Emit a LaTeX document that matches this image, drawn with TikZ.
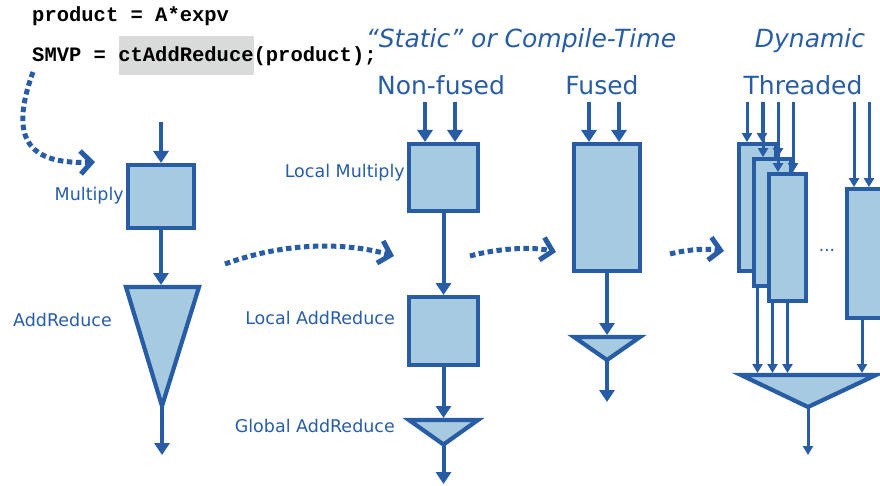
\documentclass[tikz,border=0pt]{standalone}
\usepackage{fontspec}
\setmainfont{DejaVu Sans}
\newfontfamily\codefont{Liberation Mono}
\usetikzlibrary{arrows.meta}
\definecolor{dblue}{HTML}{285DA6}
\definecolor{lblue}{HTML}{A6CADF}
\definecolor{hgray}{HTML}{D9DADA}
\tikzset{
  blk/.style={draw=dblue, fill=lblue, line width=4pt, inner sep=0pt, outer sep=2pt},
  tbox/.style={draw=dblue, fill=lblue, line width=3.8pt, inner sep=0pt, outer sep=1.9pt, minimum width=37pt, minimum height=127pt},
  tri/.style={draw=dblue, fill=lblue, line width=4.2pt, line join=miter},
  arr/.style={draw=dblue, line width=4pt, -{Triangle[length=12pt,width=15pt]}},
  tarr/.style={draw=dblue, line width=3pt, -{Triangle[length=9pt,width=10pt]}},
  dotarr/.style={draw=dblue, line width=5pt, dash pattern=on 5.5pt off 3.5pt, -{Straight Barb[length=11pt,width=23pt,line width=5pt]}},
  lbl/.style={text=dblue, inner sep=0pt, font=\fontsize{17.5}{20}\selectfont},
  hdr/.style={text=dblue, inner sep=0pt, anchor=base, font=\fontsize{25}{28}\selectfont},
  hdri/.style={text=dblue, inner sep=0pt, anchor=base, font=\fontsize{25}{28}\selectfont\itshape},
  code/.style={inner sep=0pt, anchor=base west, font=\codefont\bfseries\fontsize{20.5}{24}\selectfont}
}
\begin{document}
\begin{tikzpicture}[x=1pt,y=-1pt]
\useasboundingbox (0,0) rectangle (880,486);
\clip (0,0) rectangle (880,486);

% code lines
\node[fill=hgray, minimum width=135pt, minimum height=39pt, inner sep=0pt] (hl) at (186.5,55.5) {};
\node[code] (c1) at (32,22) {product = A*expv};
\node[code] (c2) at (32,62) {SMVP = ctAddReduce(product);};

% headers
\node[hdri] (hstatic) at (521,48) {“Static” or Compile-Time};
\node[hdri] (hdyn) at (810,48) {Dynamic};
\node[hdr] (hnf) at (441,95) {Non-fused};
\node[hdr] (hf) at (602,95) {Fused};
\node[hdr] (hth) at (803,95) {Threaded};

% ---------- single column
\coordinate (in0) at (161,122);
\node[blk, minimum width=66pt, minimum height=63pt] (mul) at (161,196.5) {};
\draw[arr] (in0) -- (mul.north);
\coordinate (t1l) at (126,287);
\coordinate (t1r) at (199,287);
\coordinate (t1a) at (162,406);
\coordinate (t1top) at (161,285);
\draw[tri] (t1l) -- (t1r) -- (t1a) -- cycle;
\draw[arr] (mul.south) -- (t1top);
\coordinate (out0) at (162,455);
\draw[arr] (t1a) -- (out0);
\node[lbl, anchor=east] (lmul) at (124,196) {Multiply};
\node[lbl, anchor=east] (lar) at (112,320) {AddReduce};

% ---------- non-fused
\coordinate (nin1) at (425,102);
\coordinate (nin2) at (455,102);
\node[blk, minimum width=69pt, minimum height=67pt] (lm) at (443.5,177.5) {};
\draw[arr] (nin1) -- (nin1 |- lm.north);
\draw[arr] (nin2) -- (nin2 |- lm.north);
\node[blk, minimum width=69pt, minimum height=68pt] (la) at (443.5,331) {};
\draw[arr] (lm.south) -- (la.north);
\coordinate (t2l) at (409,420);
\coordinate (t2r) at (478,420);
\coordinate (t2a) at (443.5,444.5);
\coordinate (t2top) at (443.5,418);
\draw[tri] (t2l) -- (t2r) -- (t2a) -- cycle;
\draw[arr] (la.south) -- (t2top);
\coordinate (out2) at (443.5,484);
\draw[arr] (t2a) -- (out2);
\node[lbl, anchor=east] (llm) at (405,173) {Local Multiply};
\node[lbl, anchor=east] (lla) at (395,318) {Local AddReduce};
\node[lbl, anchor=east] (lga) at (395,426) {Global AddReduce};

% ---------- fused
\coordinate (fin1) at (589,102);
\coordinate (fin2) at (619,102);
\node[blk, minimum width=66pt, minimum height=127pt] (fb) at (607,207.5) {};
\draw[arr] (fin1) -- (fin1 |- fb.north);
\draw[arr] (fin2) -- (fin2 |- fb.north);
\coordinate (t3l) at (574,337);
\coordinate (t3r) at (640,337);
\coordinate (t3a) at (607,360);
\coordinate (t3top) at (607,335);
\draw[tri] (t3l) -- (t3r) -- (t3a) -- cycle;
\draw[arr] (fb.south) -- (t3top);
\coordinate (out3) at (607,402);
\draw[arr] (t3a) -- (out3);

% ---------- threaded
\coordinate (tt) at (808,373);
\node[tbox] (b1) at (757.5,207.5) {};
\coordinate (a11) at (747,102);
\coordinate (a12) at (762,102);
\draw[tarr] (a11) -- (a11 |- b1.north);
\draw[tarr] (a12) -- (a12 |- b1.north);
\draw[tarr] (b1.south) -- (b1.south |- tt);
\node[tbox] (b2) at (772.5,222.5) {};
\coordinate (a21) at (763,102);
\coordinate (a22) at (778,102);
\draw[tarr] (a21) -- (a21 |- b2.north);
\draw[tarr] (a22) -- (a22 |- b2.north);
\draw[tarr] (b2.south) -- (b2.south |- tt);
\node[tbox] (b3) at (787.5,237.5) {};
\coordinate (a31) at (778,102);
\coordinate (a32) at (793,102);
\draw[tarr] (a31) -- (a31 |- b3.north);
\draw[tarr] (a32) -- (a32 |- b3.north);
\draw[tarr] (b3.south) -- (b3.south |- tt);
\node[tbox, minimum height=129pt] (b4) at (865.5,253.5) {};
\coordinate (a41) at (854,102);
\coordinate (a42) at (869,102);
\draw[tarr] (a41) -- (a41 |- b4.north);
\draw[tarr] (a42) -- (a42 |- b4.north);
\draw[tarr] ([xshift=-3.5pt]b4.south) -- ([xshift=-3.5pt]b4.south |- tt);
\node[text=dblue, inner sep=0pt, font=\fontsize{17}{20}\selectfont] (dots) at (827,250) {...};
\coordinate (t4l) at (741,375);
\coordinate (t4r) at (876,375);
\coordinate (t4a) at (808,407);
\draw[tri] (t4l) -- (t4r) -- (t4a) -- cycle;
\coordinate (out4) at (808,455);
\draw[tarr] (t4a) -- (out4);

% ---------- dotted transition arrows
\coordinate (d1s) at (33,72);
\coordinate (d1e) at (95,162);
\draw[dotarr] (d1s) .. controls (12,130) and (20,165) .. (d1e);
\coordinate (d2s) at (225,264);
\coordinate (d2e) at (394,256);
\draw[dotarr] (d2s) .. controls (285,242) and (345,242) .. (d2e);
\coordinate (d3s) at (470,256);
\coordinate (d3e) at (556,252);
\draw[dotarr] (d3s) .. controls (495,249) and (530,246) .. (d3e);
\coordinate (d4s) at (670,254);
\coordinate (d4e) at (724,251);
\draw[dotarr] (d4s) .. controls (685,250) and (705,248) .. (d4e);
\end{tikzpicture}
\end{document}
